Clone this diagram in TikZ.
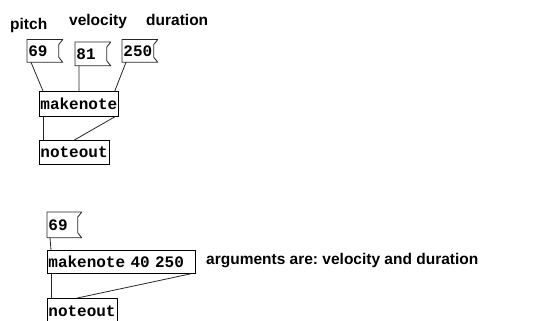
\documentclass[tikz,border=0pt]{standalone}
\usepackage{fontspec}
\setmainfont{Liberation Sans}
\newfontfamily\pdmono{Liberation Mono}[WordSpace={1,0,0}]
\usepackage{tikz}
\frenchspacing

\begin{document}
\begin{tikzpicture}[x=1pt,y=-1pt,line cap=round,
  wire/.style={line width=0.8pt,black!85},
  obj/.style={draw,line width=0.8pt,anchor=north west,inner sep=0pt,inner xsep=1pt,align=left,
    font=\pdmono\bfseries\fontsize{16}{16}\selectfont},
  atom/.style={obj,draw=none},
  note/.style={anchor=base west,inner sep=0pt,font=\bfseries\fontsize{15.5}{18}\selectfont}]
\useasboundingbox (0,0) rectangle (558,321);
% labels
\node[note] (lp) at (10,29.5) {pitch};
\node[note] (lv) at (69,25.5) {velocity};
\node[note] (ld) at (146,25.5) {duration};
% first patch
\node[atom,text width=33pt,minimum height=22pt] (n1) at (27,39.5) {69};
\node[atom,text width=33pt,minimum height=23pt] (n2) at (75,42) {81};
\node[atom,text width=33pt,minimum height=22pt] (n3) at (122,39.5) {250};
\node[obj,text width=77pt,minimum height=25pt] (mk1) at (39,91) {makenote};
\node[obj,text width=68pt,minimum height=24pt] (no1) at (39,140) {noteout};
% second patch
\node[atom,text width=32pt,minimum height=25pt] (n4) at (47,212) {69};
\node[obj,text width=146pt,minimum height=23pt] (mk2) at (47,250) {makenote 40 250};
\node[obj,text width=68pt,minimum height=26pt] (no2) at (47,298) {noteout};
\node[note] (cm) at (206,264) {arguments are: velocity and duration};
% number box outlines
\foreach \n in {n1,n2,n3,n4}
  \draw[wire,line join=round] (\n.north west) -- (\n.north east) -- ([shift={(-4,5)}]\n.north east)
    -- ([shift={(-4,-5)}]\n.south east) -- (\n.south east) -- (\n.south west) -- cycle;
% connections
\draw[wire] ([xshift=4pt]n1.south west) -- ([xshift=4pt]mk1.north west);
\draw[wire] ([xshift=4pt]n2.south west) -- (mk1.north);
\draw[wire] ([xshift=4pt]n3.south west) -- ([xshift=-4pt]mk1.north east);
\draw[wire] ([xshift=4pt]mk1.south west) -- ([xshift=4pt]no1.north west);
\draw[wire] ([xshift=-4pt]mk1.south east) -- (no1.north);
\draw[wire] ([xshift=3pt]n4.south west) -- ([xshift=4pt]mk2.north west);
\draw[wire] ([xshift=4pt]mk2.south west) -- ([xshift=4pt]no2.north west);
\draw[wire] ([xshift=-5pt]mk2.south east) -- ([xshift=-5pt]no2.north);
\end{tikzpicture}
\end{document}
